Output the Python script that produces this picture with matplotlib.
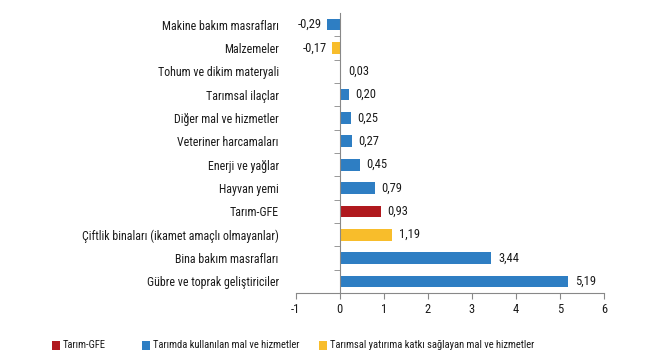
import matplotlib
matplotlib.use("Agg")
import matplotlib.pyplot as plt
from matplotlib.patches import Rectangle
import numpy as np

plt.rcParams['font.family'] = ['Roboto Condensed', 'Liberation Sans', 'DejaVu Sans']

categories = ["Makine bakım masrafları", "Malzemeler", "Tohum ve dikim materyali",
              "Tarımsal ilaçlar", "Diğer mal ve hizmetler", "Veteriner harcamaları",
              "Enerji ve yağlar", "Hayvan yemi", "Tarım-GFE",
              "Çiftlik binaları (ikamet amaçlı olmayanlar)", "Bina bakım masrafları",
              "Gübre ve toprak geliştiriciler"]
values = [-0.29, -0.17, 0.03, 0.20, 0.25, 0.27, 0.45, 0.79, 0.93, 1.19, 3.44, 5.19]
groups = ["b", "y", "b", "b", "b", "b", "b", "b", "r", "y", "b", "b"]
legend_labels = ["Tarım-GFE", "Tarımda kullanılan mal ve hizmetler",
                 "Tarımsal yatırıma katkı sağlayan mal ve hizmetler"]
x_ticks = [-1, 0, 1, 2, 3, 4, 5, 6]

colors = {"r": "#B0191E", "b": "#2E7EC3", "y": "#F8BD2B"}
txt = "#1a1a1a"
fs = 8.6

fig = plt.figure(figsize=(6.5, 3.6), dpi=100)
ax = fig.add_axes([0.455, 0.186, 0.474, 0.778])

n = len(categories)
ypos = np.arange(n)[::-1]
ax.barh(ypos, values, height=0.5, color=[colors[g] for g in groups])

for y, v in zip(ypos, values):
    lab = f"{v:.2f}".replace(".", ",")
    if v < 0:
        ax.annotate(lab, (v, y), xytext=(-4, 0), textcoords="offset points",
                    ha="right", va="center", fontsize=9, color=txt)
    else:
        ax.annotate(lab, (v, y), xytext=(5, 0), textcoords="offset points",
                    ha="left", va="center", fontsize=9, color=txt)

ax.set_xlim(-1, 6)
ax.set_ylim(-0.5, n - 0.5)
ax.set_xticks(x_ticks)
ax.set_xticklabels([str(t) for t in x_ticks], fontsize=9, color=txt)

ax.spines['left'].set_position(('data', 0))
ax.spines['left'].set_color("#888888")
ax.spines['bottom'].set_color("#888888")
ax.spines['top'].set_visible(False)
ax.spines['right'].set_visible(False)

ax.set_yticks(ypos)
ax.set_yticklabels(categories, fontsize=fs, color=txt)
ax.tick_params(axis='y', which='major', length=0, pad=44)
ax.set_yticks(np.arange(-0.5, n - 0.5, 1), minor=True)
ax.tick_params(axis='y', which='minor', length=4, color="#888888", direction='out')
ax.tick_params(axis='x', length=4, color="#888888", direction='out', pad=3)

# legend placed manually, items laid out from measured text widths
W, H = 650.0, 360.0
renderer = fig.canvas.get_renderer()
x_cur = 52.0
leg_y = 345.0
gaps = [36.0, 20.0, 0.0]
for c, lab, gap in zip(["r", "b", "y"], legend_labels, gaps):
    fig.patches.append(Rectangle((x_cur / W, (H - leg_y - 4.5) / H), 8 / W, 9 / H,
                                 transform=fig.transFigure, facecolor=colors[c],
                                 edgecolor='none'))
    t = fig.text((x_cur + 11) / W, (H - leg_y) / H, lab, fontsize=7.6, color=txt,
                 ha="left", va="center")
    w = t.get_window_extent(renderer=renderer).width
    x_cur = x_cur + 11 + w + gap

fig.savefig("out.png", dpi=100, facecolor="white")
